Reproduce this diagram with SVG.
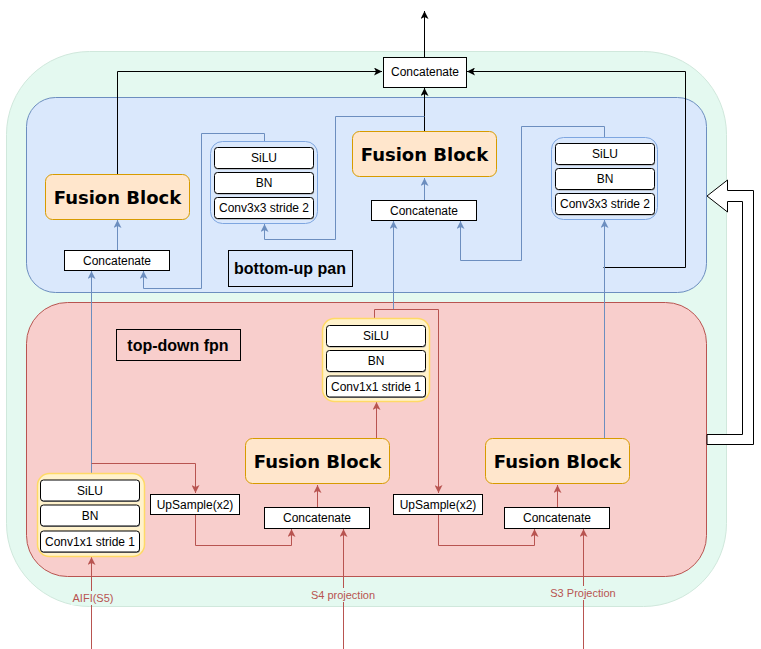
<svg xmlns="http://www.w3.org/2000/svg" width="761" height="649" viewBox="0 0 761 649">
<defs>
<style>
.t{font-family:"Liberation Sans",Arial,sans-serif;font-size:12px;fill:#000;text-anchor:middle;dominant-baseline:central}
.fbt{font-family:"DejaVu Sans",Verdana,sans-serif;font-size:18px;font-weight:bold;fill:#000;text-anchor:middle;dominant-baseline:central}
.lbl{font-family:"Liberation Sans",Arial,sans-serif;font-size:16px;font-weight:bold;fill:#000;text-anchor:middle;dominant-baseline:central}
.el{font-family:"Liberation Sans",Arial,sans-serif;font-size:11px;fill:#b85450;text-anchor:middle;dominant-baseline:central}
.box{fill:#fff;stroke:#000;stroke-width:1}
.ib{fill:#fff;stroke:#000;stroke-width:1}
.sh{fill:#999;stroke:none}
.fb{fill:#ffe6cc;stroke:#d79b00;stroke-width:1}
.cs3{fill:#dae8fc;stroke:#7ea6e0;stroke-width:1}
.cs1{fill:#fff2cc;stroke:#ffd966;stroke-width:1.5}
.lb{fill:none;stroke:#6c8ebf;stroke-width:1}
.lr{fill:none;stroke:#b85450;stroke-width:1}
.lk{fill:none;stroke:#000;stroke-width:1}
</style>
<marker id="ab" viewBox="0 0 8 8" refX="8" refY="4" markerWidth="8" markerHeight="8" markerUnits="userSpaceOnUse" orient="auto"><path d="M0,0 L8,4 L0,8 L2,4 z" fill="#6c8ebf"/></marker>
<marker id="ar" viewBox="0 0 8 8" refX="8" refY="4" markerWidth="8" markerHeight="8" markerUnits="userSpaceOnUse" orient="auto"><path d="M0,0 L8,4 L0,8 L2,4 z" fill="#b85450"/></marker>
<marker id="ak" viewBox="0 0 8 8" refX="8" refY="4" markerWidth="8" markerHeight="8" markerUnits="userSpaceOnUse" orient="auto"><path d="M0,0 L8,4 L0,8 L2,4 z" fill="#000"/></marker>
</defs>
<rect width="761" height="649" fill="#fff"/>

<g id="container-ccfm"><rect x="6.5" y="51.5" width="720" height="555" rx="83" fill="#e4f9f0" stroke="#d0e8dc"/></g>
<g id="region-bottom-up"><rect x="26.5" y="97.5" width="680" height="195" rx="29" fill="#dae8fc" stroke="#6c8ebf"/></g>
<g id="region-top-down"><rect x="26.5" y="302.5" width="680" height="274" rx="41" fill="#f8cecc" stroke="#b85450"/></g>

<g id="big-arrow"><polygon points="707,434.5 742.5,434.5 742.5,201.5 727.5,201.5 727.5,212 707,196 727.5,180 727.5,190.5 753.5,190.5 753.5,444.5 707,444.5" fill="#fff" stroke="#000" stroke-width="1"/></g>

<g id="connectors">
<!-- black -->
<path class="lk" d="M424.5,57 V11" marker-end="url(#ak)"/>
<path class="lk" d="M117.5,174 V71.5 H382" marker-end="url(#ak)"/>
<path class="lk" d="M424.5,131 V88" marker-end="url(#ak)"/>
<path class="lk" d="M603.5,267.5 H685.5 V71.5 H467" marker-end="url(#ak)"/>
<!-- blue -->
<path class="lb" d="M264.5,141 V133.5 H201.5 V288.5 H143.5 V271" marker-end="url(#ab)"/>
<path class="lb" d="M424.5,116.5 H335.5 V239.5 H264.5 V224" marker-end="url(#ab)"/>
<path class="lb" d="M117.5,250 V220" marker-end="url(#ab)"/>
<path class="lb" d="M91.5,473 V271" marker-end="url(#ab)"/>
<path class="lb" d="M424.5,200 V178" marker-end="url(#ab)"/>
<path class="lb" d="M393.5,309 V221" marker-end="url(#ab)"/>
<path class="lb" d="M604.5,137 V126.5 H521.5 V260.5 H460.5 V221" marker-end="url(#ab)"/>
<path class="lb" d="M604.5,438 V220" marker-end="url(#ab)"/>
<!-- red -->
<path class="lr" d="M91.5,649 V557" marker-end="url(#ar)"/>
<path class="lr" d="M91.5,463.5 H195.5 V493" marker-end="url(#ar)"/>
<path class="lr" d="M195.5,514 V545.5 H291.5 V529" marker-end="url(#ar)"/>
<path class="lr" d="M343.5,649 V529" marker-end="url(#ar)"/>
<path class="lr" d="M317.5,507 V485" marker-end="url(#ar)"/>
<path class="lr" d="M376.5,438 V402" marker-end="url(#ar)"/>
<path class="lr" d="M374.5,318 V309.5 H438.5 V493" marker-end="url(#ar)"/>
<path class="lr" d="M438.5,514 V545.5 H534.5 V529" marker-end="url(#ar)"/>
<path class="lr" d="M583.5,649 V529" marker-end="url(#ar)"/>
<path class="lr" d="M557.5,507 V485" marker-end="url(#ar)"/>
<!-- edge labels -->
<rect x="71" y="591" width="44" height="14" fill="#e4f9f0"/>
<text class="el" x="93" y="598">AIFI(S5)</text>
<rect x="308" y="588" width="70" height="14" fill="#e4f9f0"/>
<text class="el" x="343" y="595">S4 projection</text>
<rect x="548" y="586" width="70" height="14" fill="#e4f9f0"/>
<text class="el" x="583" y="593">S3 Projection</text>
</g>

<g id="concat-top"><rect class="box" x="383.5" y="57.5" width="83" height="30"/><text class="t" x="425" y="72">Concatenate</text></g>

<g id="fusion-left"><rect class="fb" x="45.5" y="174.5" width="144" height="45" rx="7"/><text class="fbt" x="117.5" y="197">Fusion Block</text></g>
<g id="concat-left"><rect class="box" x="64.5" y="250.5" width="105" height="20"/><text class="t" x="117" y="260.5">Concatenate</text></g>

<g id="conv3x3-left">
<rect class="cs3" x="210.5" y="141.5" width="107" height="82" rx="12"/>
<rect class="sh" x="215" y="148.5" width="99" height="21" rx="3"/><rect class="ib" x="214.5" y="147.5" width="99" height="21" rx="3"/><text class="t" x="264" y="158">SiLU</text>
<rect class="sh" x="215" y="173.5" width="99" height="21" rx="3"/><rect class="ib" x="214.5" y="172.5" width="99" height="21" rx="3"/><text class="t" x="264" y="183">BN</text>
<rect class="sh" x="215" y="198.5" width="99" height="21" rx="3"/><rect class="ib" x="214.5" y="197.5" width="99" height="21" rx="3"/><text class="t" x="264" y="208">Conv3x3 stride 2</text>
</g>

<g id="label-bottom-up"><rect x="228.5" y="250.5" width="124" height="36" fill="none" stroke="#000"/><text class="lbl" x="290" y="268.5">bottom-up pan</text></g>

<g id="fusion-mid-top"><rect class="fb" x="352.5" y="131.5" width="144" height="45" rx="7"/><text class="fbt" x="424.5" y="154">Fusion Block</text></g>
<g id="concat-mid-top"><rect class="box" x="371.5" y="200.5" width="105" height="20"/><text class="t" x="424" y="210.5">Concatenate</text></g>

<g id="conv3x3-right">
<rect class="cs3" x="551.5" y="137.5" width="106" height="82" rx="12"/>
<rect class="sh" x="556" y="144.5" width="99" height="21" rx="3"/><rect class="ib" x="555.5" y="143.5" width="99" height="21" rx="3"/><text class="t" x="605" y="154">SiLU</text>
<rect class="sh" x="556" y="169.5" width="99" height="21" rx="3"/><rect class="ib" x="555.5" y="168.5" width="99" height="21" rx="3"/><text class="t" x="605" y="179">BN</text>
<rect class="sh" x="556" y="194.5" width="99" height="21" rx="3"/><rect class="ib" x="555.5" y="193.5" width="99" height="21" rx="3"/><text class="t" x="605" y="204">Conv3x3 stride 2</text>
</g>

<g id="label-top-down"><rect x="116.5" y="329.5" width="124" height="31" fill="none" stroke="#000"/><text class="lbl" x="178" y="345">top-down fpn</text></g>

<g id="conv1x1-mid">
<rect class="cs1" x="322.5" y="318.5" width="107" height="83" rx="12"/>
<rect class="sh" x="327" y="326.5" width="99" height="21" rx="3"/><rect class="ib" x="326.5" y="325.5" width="99" height="21" rx="3"/><text class="t" x="376" y="336">SiLU</text>
<rect class="sh" x="327" y="351.5" width="99" height="21" rx="3"/><rect class="ib" x="326.5" y="350.5" width="99" height="21" rx="3"/><text class="t" x="376" y="361">BN</text>
<rect class="sh" x="327" y="377" width="99" height="21" rx="3"/><rect class="ib" x="326.5" y="376" width="99" height="21" rx="3"/><text class="t" x="376" y="386.5">Conv1x1 stride 1</text>
</g>

<g id="conv1x1-left">
<rect class="cs1" x="37.5" y="473.5" width="107" height="83" rx="12"/>
<rect class="sh" x="41" y="481" width="99" height="21" rx="3"/><rect class="ib" x="40.5" y="480" width="99" height="21" rx="3"/><text class="t" x="90" y="490.5">SiLU</text>
<rect class="sh" x="41" y="506" width="99" height="21" rx="3"/><rect class="ib" x="40.5" y="505" width="99" height="21" rx="3"/><text class="t" x="90" y="515.5">BN</text>
<rect class="sh" x="41" y="532" width="99" height="21" rx="3"/><rect class="ib" x="40.5" y="531" width="99" height="21" rx="3"/><text class="t" x="90" y="541.5">Conv1x1 stride 1</text>
</g>

<g id="upsample-left"><rect class="box" x="150.5" y="494.5" width="89" height="20"/><text class="t" x="195" y="504.5">UpSample(x2)</text></g>
<g id="concat-bottom-mid"><rect class="box" x="264.5" y="507.5" width="105" height="21"/><text class="t" x="317" y="518">Concatenate</text></g>
<g id="fusion-bottom-mid"><rect class="fb" x="245.5" y="438.5" width="144" height="45" rx="7"/><text class="fbt" x="317.5" y="461">Fusion Block</text></g>

<g id="upsample-right"><rect class="box" x="393.5" y="494.5" width="89" height="20"/><text class="t" x="438" y="504.5">UpSample(x2)</text></g>
<g id="concat-bottom-right"><rect class="box" x="504.5" y="507.5" width="105" height="21"/><text class="t" x="557" y="518">Concatenate</text></g>
<g id="fusion-bottom-right"><rect class="fb" x="485.5" y="438.5" width="144" height="45" rx="7"/><text class="fbt" x="557.5" y="461">Fusion Block</text></g>
</svg>
